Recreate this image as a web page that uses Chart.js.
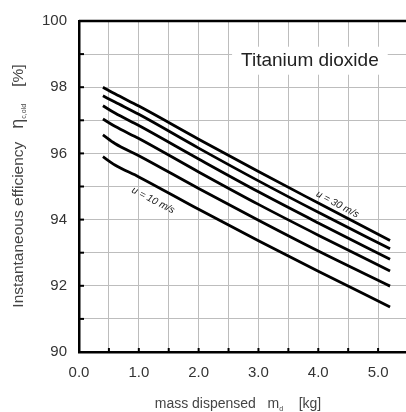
<!DOCTYPE html>
<html>
<head>
<meta charset="utf-8">
<script src="https://cdn.jsdelivr.net/npm/chart.js@4/dist/chart.umd.min.js"></script>
<style>
  html, body { margin: 0; padding: 0; background: #fff; overflow: hidden; }
  #wrap { width: 406px; height: 412px; overflow: hidden; }
</style>
</head>
<body>
<div id="wrap"><canvas id="grafica" width="420" height="412"></canvas></div>
<script>
// masa dispensada (kg) donde se leyeron los puntos
const masa = [0.4, 0.6, 1.0, 2.0, 3.0, 4.0, 5.2];

// eficiencia instantanea (%) para cada curva, de arriba (u = 30 m/s) hacia abajo (u = 10 m/s)
const curva1 = [98.0, 97.8, 97.43, 96.43, 95.45, 94.5, 93.37];
const curva2 = [97.74, 97.55, 97.18, 96.16, 95.17, 94.22, 93.12];
const curva3 = [97.44, 97.22, 96.84, 95.83, 94.84, 93.9, 92.8];
const curva4 = [97.04, 96.82, 96.45, 95.44, 94.46, 93.53, 92.45];
const curva5 = [96.56, 96.3, 95.93, 94.94, 93.98, 93.05, 91.99];
const curva6 = [95.9, 95.65, 95.29, 94.31, 93.36, 92.44, 91.36];

const curvas = [curva1, curva2, curva3, curva4, curva5, curva6];

// etiquetas de velocidad: [texto, masa, eficiencia, curva de referencia]
const etiquetas = [
    ["u = 10 m/s", 1.24, 94.58, curva6],
    ["u = 30 m/s", 4.32, 94.46, curva1]
];

const titulo = "Titanium dioxide";

const xTicks = { min: 0, max: 5.5, paso: 0.5 };
const yTicks = { min: 90, max: 100, paso: 1 };

const colorTexto = "#333";
const fuente = "'Liberation Sans', Arial, sans-serif";

// dibuja un texto compuesto (con subindices) centrado en 0,0
function textoCompuesto(ctx, piezas) {
    let total = 0;
    piezas.forEach(p => { ctx.font = p.font; total += ctx.measureText(p.t).width; });
    let x = -total / 2;
    piezas.forEach(p => {
        ctx.font = p.font;
        ctx.fillText(p.t, x, p.dy || 0);
        x += ctx.measureText(p.t).width;
    });
}

const plugin = {
    id: 'extras',
    beforeDatasetsDraw(chart) {
        const ctx = chart.ctx;
        const xs = chart.scales.x, ys = chart.scales.y;
        // caja blanca del titulo
        ctx.save();
        ctx.font = "19px " + fuente;
        const w = ctx.measureText(titulo).width;
        const cx = xs.getPixelForValue(3.86), cy = ys.getPixelForValue(98.8);
        ctx.fillStyle = "#fff";
        ctx.fillRect(cx - w / 2 - 9, cy - 14, w + 18, 28);
        ctx.fillStyle = "#222";
        ctx.textAlign = "center";
        ctx.textBaseline = "middle";
        ctx.fillText(titulo, cx, cy);
        ctx.restore();
    },
    afterDraw(chart) {
        const ctx = chart.ctx;
        const a = chart.chartArea;
        const xs = chart.scales.x, ys = chart.scales.y;
        ctx.save();
        ctx.strokeStyle = "#000";
        // borde superior
        ctx.lineWidth = 2.5;
        ctx.beginPath();
        ctx.moveTo(a.left, a.top);
        ctx.lineTo(chart.width, a.top);
        ctx.stroke();
        // marcas hacia adentro
        ctx.lineWidth = 2;
        for (let v = xTicks.min; v <= xTicks.max + 1e-9; v += xTicks.paso) {
            const px = xs.getPixelForValue(v);
            ctx.beginPath(); ctx.moveTo(px, a.bottom); ctx.lineTo(px, a.bottom - 4); ctx.stroke();
        }
        for (let v = yTicks.min; v <= yTicks.max; v += yTicks.paso) {
            const py = ys.getPixelForValue(v);
            ctx.beginPath(); ctx.moveTo(a.left, py); ctx.lineTo(a.left + 5, py); ctx.stroke();
        }

        // etiquetas de velocidad giradas segun la curva
        ctx.fillStyle = "#111";
        ctx.font = "italic 10px " + fuente;
        ctx.textAlign = "center";
        ctx.textBaseline = "middle";
        etiquetas.forEach(([txt, mx, ey, c]) => {
            const x0 = xs.getPixelForValue(masa[2]), y0 = ys.getPixelForValue(c[2]);
            const x1 = xs.getPixelForValue(masa[6]), y1 = ys.getPixelForValue(c[6]);
            const ang = Math.atan2(y1 - y0, x1 - x0);
            ctx.save();
            ctx.translate(xs.getPixelForValue(mx), ys.getPixelForValue(ey));
            ctx.rotate(ang);
            ctx.fillText(txt, 0, 0);
            ctx.restore();
        });

        // titulos de ejes
        ctx.fillStyle = "#444";
        ctx.textBaseline = "alphabetic";
        ctx.textAlign = "left";
        ctx.save();
        ctx.translate(23, 186);
        ctx.rotate(-Math.PI / 2);
        textoCompuesto(ctx, [
            { t: "Instantaneous efficiency   ", font: "15.5px " + fuente },
            { t: "η", font: "18px " + fuente },
            { t: "c,old", font: "7px " + fuente, dy: 3 },
            { t: "    [%]", font: "15.5px " + fuente }
        ]);
        ctx.restore();
        ctx.save();
        ctx.translate(238, 408);
        textoCompuesto(ctx, [
            { t: "mass dispensed   m", font: "14px " + fuente },
            { t: "d", font: "7px " + fuente, dy: 3 },
            { t: "    [kg]", font: "14px " + fuente }
        ]);
        ctx.restore();
        ctx.restore();
    }
};

const ctx = document.getElementById('grafica').getContext('2d');

new Chart(ctx, {
    type: 'line',
    data: {
        datasets: curvas.map(c => ({
            data: masa.map((m, i) => ({ x: m, y: c[i] })),
            borderColor: '#000',
            borderWidth: 2.8,
            pointRadius: 0,
            fill: false,
            cubicInterpolationMode: 'monotone'
        }))
    },
    options: {
        responsive: false,
        animation: false,
        layout: { padding: { top: 20, right: 10, left: 0, bottom: 0 } },
        plugins: { legend: { display: false }, tooltip: { enabled: false } },
        scales: {
            x: {
                type: 'linear',
                min: xTicks.min,
                max: xTicks.max,
                afterFit(s) { s.height = 60; },
                ticks: {
                    stepSize: xTicks.paso,
                    autoSkip: false,
                    maxRotation: 0,
                    padding: 12,
                    color: colorTexto,
                    font: { family: fuente, size: 15 },
                    callback: v => (Math.abs(v % 1) < 1e-9 && v <= 5) ? v.toFixed(1) : ''
                },
                grid: { color: '#bdbdbd', lineWidth: 1, drawTicks: false },
                border: { color: '#000', width: 2.5 }
            },
            y: {
                min: yTicks.min,
                max: yTicks.max,
                afterFit(s) { s.width = 79; },
                ticks: {
                    stepSize: yTicks.paso,
                    autoSkip: false,
                    padding: 12,
                    color: colorTexto,
                    font: { family: fuente, size: 15 },
                    callback: v => (v % 2 === 0) ? v : ''
                },
                grid: { color: '#bdbdbd', lineWidth: 1, drawTicks: false },
                border: { color: '#000', width: 2.5 }
            }
        }
    },
    plugins: [plugin]
});
</script>
</body>
</html>
